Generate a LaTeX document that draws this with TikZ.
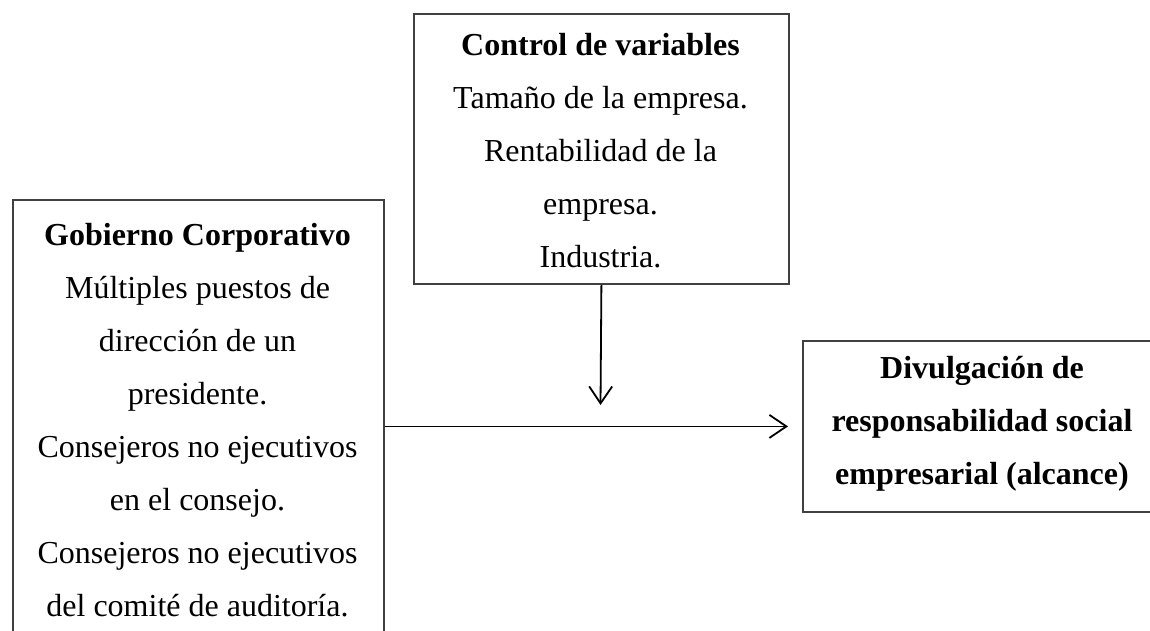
\documentclass[tikz,border=0pt]{standalone}
\usepackage{fontspec}
\setmainfont{Liberation Serif}
\usetikzlibrary{arrows.meta}
\begin{document}
\begin{tikzpicture}[x=1pt,y=-1pt,
  box/.style={draw=black!75, line width=1.8pt, rectangle, inner sep=0pt, anchor=north west},
  txt/.style={align=center, inner sep=0pt, anchor=north, font=\fontsize{32}{53}\selectfont},
  btxt/.style={txt, font=\fontsize{32}{53}\selectfont\bfseries},
  arr/.style={line width=1.8pt, draw=black, -{Straight Barb[length=17pt,width=23pt,line width=1.8pt]}}]
\useasboundingbox (0,0) rectangle (1150,630);
\clip (0,0) rectangle (1150,630);
% boxes
\node[box, minimum width=371pt, minimum height=500pt] (lbox) at (12,199) {};
\node[box, minimum width=375pt, minimum height=270pt] (tbox) at (413,13) {};
\node[box, minimum width=360pt, minimum height=171pt] (rbox) at (802,340) {};
% texts
\node[txt] (ltext) at (197.5,220) {\rule{0pt}{25pt}\textbf{Gobierno Corporativo}\\Múltiples puestos de\\dirección de un\\presidente.\\Consejeros no ejecutivos\\en el consejo.\\Consejeros no ejecutivos\\del comité de auditoría.};
\node[txt] (ttext) at (600.5,30) {\rule{0pt}{25pt}\textbf{Control de variables}\\Tamaño de la empresa.\\Rentabilidad de la\\empresa.\\Industria.};
\node[btxt] (rtext) at (982,353) {\rule{0pt}{25pt}Divulgación de\\responsabilidad social\\empresarial (alcance)};
% connectors
\coordinate (vtip) at (600.5,405);
\draw[arr] (tbox.south) -- (vtip);
\draw[arr, shorten >=14pt] (lbox.east |- rbox.west) -- (rbox.west);
\end{tikzpicture}
\end{document}
